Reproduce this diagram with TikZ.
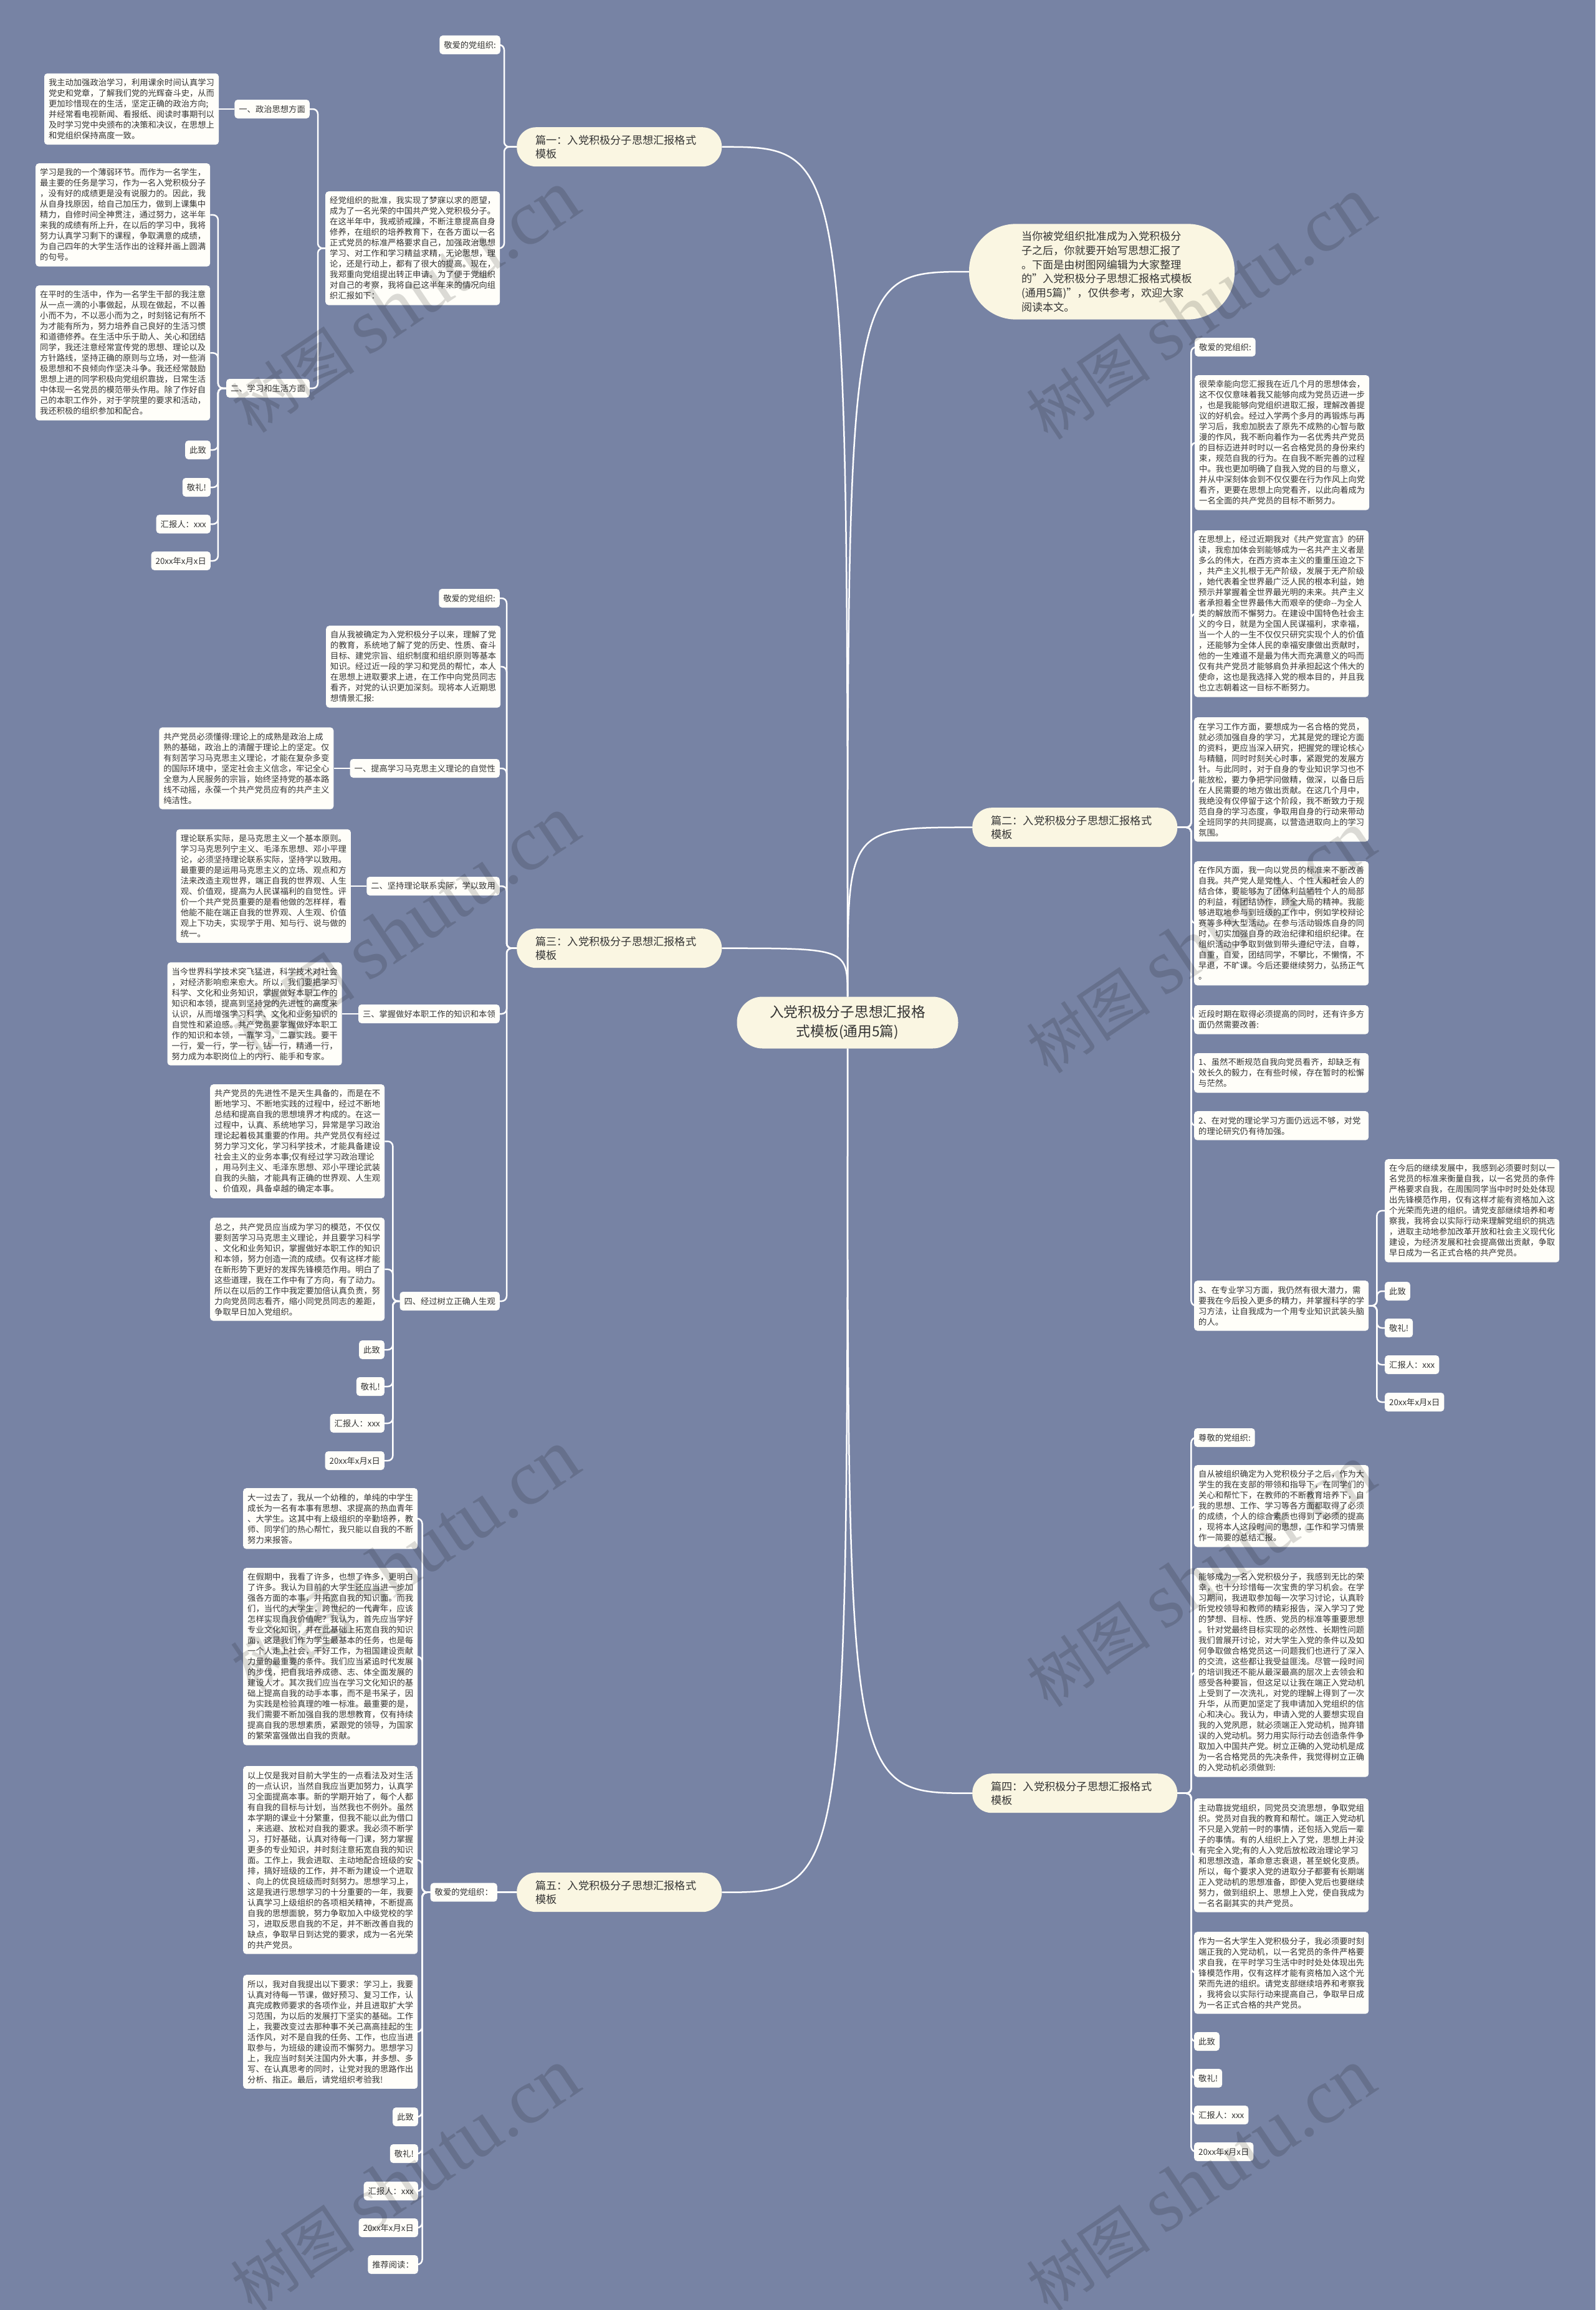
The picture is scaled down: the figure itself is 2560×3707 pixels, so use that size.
\documentclass[tikz,border=0pt]{standalone}
\usepackage{fontspec}
\setmainfont{Noto Sans CJK SC}
\newfontfamily\wmfont{Liberation Serif}
\usetikzlibrary{positioning}
\definecolor{bgcol}{RGB}{119,131,164}
\definecolor{boxfill}{RGB}{255,254,249}
\definecolor{piancol}{RGB}{250,246,226}
\definecolor{textcol}{RGB}{52,52,52}

\begin{document}
\begin{tikzpicture}[
  x=1pt,y=-1pt,
  txt/.style={fill=boxfill,text=textcol,rounded corners=5pt,text width=266pt,align=left,inner xsep=7pt,inner ysep=8.5pt,font=\fontsize{13.3}{17}\selectfont},
  tag/.style={fill=boxfill,text=textcol,rounded corners=5pt,inner xsep=7pt,inner ysep=2pt,minimum height=30pt,font=\fontsize{13.3}{17}\selectfont},
  pian/.style={fill=piancol,text=textcol,rounded corners=31pt,text width=269pt,align=left,inner xsep=30pt,minimum height=63pt,font=\fontsize{17.2}{21.7}\selectfont},
  link/.style={draw=white,line width=2.5pt,rounded corners=8pt},
  wmark/.style={rotate=34,text=black,opacity=.14,inner sep=0pt}
]
  \useasboundingbox (0,0) rectangle (2560,3707);
  \fill[bgcol] (0,0) rectangle (2560,3707);

  \node[fill=piancol,text=textcol,rounded corners=41pt,minimum width=355pt,minimum height=83pt,align=center,font=\fontsize{22.7}{30.7}\selectfont] (centre) at (1360,1641) {入党积极分子思想汇报格\\式模板(通用5篇)};
  \node[fill=piancol,text=textcol,rounded corners=75pt,text width=258pt,align=left,inner xsep=84pt,inner ysep=12pt,font=\fontsize{17.1}{22.7}\selectfont] (intro) at (1768,436) {当你被党组织批准成为入党积极分\\子之后，你就要开始写思想汇报了\\。下面是由树图网编辑为大家整理\\的"入党积极分子思想汇报格式模板\\(通用5篇)"，仅供参考，欢迎大家\\阅读本文。};

  % 篇一
  \node[pian,anchor=north west] (pian1) at (829,204) {篇一：入党积极分子思想汇报格式\\模板};
  \node[tag,anchor=east] (p1greet) at (803,72) {敬爱的党组织:};
  \node[txt,anchor=north west] (p1lead) at (522,307) {经党组织的批准，我实现了梦寐以求的愿望，\\成为了一名光荣的中国共产党入党积极分子。\\在这半年中，我戒骄戒躁，不断注意提高自身\\修养，在组织的培养教育下，在各方面以一名\\正式党员的标准严格要求自己，加强政治思想\\学习、对工作和学习精益求精，无论思想，理\\论，还是行动上，都有了很大的提高。现在，\\我郑重向党组提出转正申请。为了便于党组织\\对自己的考察，我将自己这半年来的情况向组\\织汇报如下：};
  \node[tag,anchor=east] (p1a) at (497,175) {一、政治思想方面};
  \node[tag,anchor=east] (p1b) at (497,623) {二、学习和生活方面};
  \node[txt,left=25pt of p1a] (p1aa) {我主动加强政治学习，利用课余时间认真学习\\党史和党章，了解我们党的光辉奋斗史，从而\\更加珍惜现在的生活，坚定正确的政治方向;\\并经常看电视新闻、看报纸、阅读时事期刊以\\及时学习党中央颁布的决策和决议，在思想上\\和党组织保持高度一致。};
  \node[txt,anchor=north west] (p1ba) at (57,262) {学习是我的一个薄弱环节。而作为一名学生，\\最主要的任务是学习，作为一名入党积极分子\\，没有好的成绩更是没有说服力的。因此，我\\从自身找原因，给自己加压力，做到上课集中\\精力，自修时间全神贯注，通过努力，这半年\\来我的成绩有所上升，在以后的学习中，我将\\努力认真学习剩下的课程，争取满意的成绩，\\为自己四年的大学生活作出的诠释并画上圆满\\的句号。};
  \node[txt,anchor=north west] (p1bb) at (57,458) {在平时的生活中，作为一名学生干部的我注意\\从一点一滴的小事做起，从现在做起，不以善\\小而不为，不以恶小而为之，时刻铭记有所不\\为才能有所为，努力培养自己良好的生活习惯\\和道德修养。在生活中乐于助人、关心和团结\\同学，我还注意经常宣传党的思想、理论以及\\方针路线，坚持正确的原则与立场，对一些消\\极思想和不良倾向作坚决斗争。我还经常鼓励\\思想上进的同学积极向党组织靠拢，日常生活\\中体现一名党员的模范带头作用。除了作好自\\己的本职工作外，对于学院里的要求和活动，\\我还积极的组织参加和配合。};
  \node[tag,anchor=east] (p1end1) at (338,722) {此致};
  \node[tag,anchor=east] (p1end2) at (338,782) {敬礼!};
  \node[tag,anchor=east] (p1end3) at (338,841) {汇报人：xxx};
  \node[tag,anchor=east] (p1end4) at (338,900) {20xx年x月x日};

  % 篇三
  \node[pian,anchor=north west] (pian3) at (829,1490) {篇三：入党积极分子思想汇报格式\\模板};
  \node[tag,anchor=east] (p3greet) at (802,960) {敬爱的党组织:};
  \node[txt,anchor=north west] (p3lead) at (523,1004) {自从我被确定为入党积极分子以来，理解了党\\的教育，系统地了解了党的历史、性质、奋斗\\目标、建党宗旨、组织制度和组织原则等基本\\知识。经过近一段的学习和党员的帮忙，本人\\在思想上进取要求上进，在工作中向党员同志\\看齐，对党的认识更加深刻。现将本人近期思\\想情景汇报:};
  \node[tag,anchor=east] (p3a) at (802,1233) {一、提高学习马克思主义理论的自觉性};
  \node[tag,anchor=east] (p3b) at (802,1422) {二、坚持理论联系实际，学以致用};
  \node[tag,anchor=east] (p3c) at (802,1627) {三、掌握做好本职工作的知识和本领};
  \node[tag,anchor=east] (p3d) at (802,2088) {四、经过树立正确人生观};
  \node[txt,left=26pt of p3a] (p3aa) {共产党员必须懂得:理论上的成熟是政治上成\\熟的基础，政治上的清醒于理论上的坚定。仅\\有刻苦学习马克思主义理论，才能在复杂多变\\的国际环境中，坚定社会主义信念，牢记全心\\全意为人民服务的宗旨，始终坚持党的基本路\\线不动摇，永葆一个共产党员应有的共产主义\\纯洁性。};
  \node[txt,left=25pt of p3b] (p3ba) {理论联系实际，是马克思主义一个基本原则。\\学习马克思列宁主义、毛泽东思想、邓小平理\\论，必须坚持理论联系实际，坚持学以致用。\\最重要的是运用马克思主义的立场、观点和方\\法来改造主观世界，端正自我的世界观、人生\\观、价值观，提高为人民谋福利的自觉性。评\\价一个共产党员重要的是看他做的怎样样，看\\他能不能在端正自我的世界观、人生观、价值\\观上下功夫，实现学于用、知与行、说与做的\\统一。};
  \node[txt,left=26pt of p3c] (p3ca) {当今世界科学技术突飞猛进，科学技术对社会\\，对经济影响愈来愈大。所以，我们要把学习\\科学、文化和业务知识，掌握做好本职工作的\\知识和本领，提高到坚持党的先进性的高度来\\认识，从而增强学习科学、文化和业务知识的\\自觉性和紧迫感。共产党员要掌握做好本职工\\作的知识和本领，一靠学习，二靠实践。要干\\一行，爱一行，学一行，钻一行，精通一行，\\努力成为本职岗位上的内行、能手和专家。};
  \node[txt,anchor=north west] (p3da) at (337,1740) {共产党员的先进性不是天生具备的，而是在不\\断地学习、不断地实践的过程中，经过不断地\\总结和提高自我的思想境界才构成的。在这一\\过程中，认真、系统地学习，异常是学习政治\\理论起着极其重要的作用。共产党员仅有经过\\努力学习文化，学习科学技术，才能具备建设\\社会主义的业务本事;仅有经过学习政治理论\\，用马列主义、毛泽东思想、邓小平理论武装\\自我的头脑，才能具有正确的世界观、人生观\\、价值观，具备卓越的确定本事。};
  \node[txt,anchor=north west] (p3db) at (337,1954) {总之，共产党员应当成为学习的模范，不仅仅\\要刻苦学习马克思主义理论，并且要学习科学\\、文化和业务知识，掌握做好本职工作的知识\\和本领，努力创造一流的成绩。仅有这样才能\\在新形势下更好的发挥先锋模范作用。明白了\\这些道理，我在工作中有了方向，有了动力。\\所以在以后的工作中我定要加倍认真负责，努\\力向党员同志看齐，缩小同党员同志的差距，\\争取早日加入党组织。};
  \node[tag,anchor=east] (p3end1) at (617,2166) {此致};
  \node[tag,anchor=east] (p3end2) at (617,2225) {敬礼!};
  \node[tag,anchor=east] (p3end3) at (617,2284) {汇报人：xxx};
  \node[tag,anchor=east] (p3end4) at (617,2344) {20xx年x月x日};

  % 篇五
  \node[pian,anchor=north west] (pian5) at (829,3005) {篇五：入党积极分子思想汇报格式\\模板};
  \node[tag,left=31pt of pian5] (p5greet) {敬爱的党组织：};
  \node[txt,anchor=north west] (p5a) at (390,2388) {大一过去了，我从一个幼稚的，单纯的中学生\\成长为一名有本事有思想、求提高的热血青年\\、大学生。这其中有上级组织的辛勤培养，教\\师、同学们的热心帮忙，我只能以自我的不断\\努力来报答。};
  \node[txt,anchor=north west] (p5b) at (390,2516) {在假期中，我看了许多，也想了许多，更明白\\了许多。我认为目前的大学生还应当进一步加\\强各方面的本事，并拓宽自我的知识面。而我\\们，当代的大学生，跨世纪的一代青年，应该\\怎样实现自我价值呢？我认为，首先应当学好\\专业文化知识，并在此基础上拓宽自我的知识\\面，这是我们作为学生最基本的任务，也是每\\一个人走上社会，干好工作，为祖国建设贡献\\力量的最重要的条件。我们应当紧追时代发展\\的步伐，把自我培养成德、志、体全面发展的\\建设人才。其次我们应当在学习文化知识的基\\础上提高自我的动手本事，而不是书呆子，因\\为实践是检验真理的唯一标准。最重要的是，\\我们需要不断加强自我的思想教育，仅有持续\\提高自我的思想素质，紧跟党的领导，为国家\\的繁荣富强做出自我的贡献。};
  \node[txt,anchor=north west] (p5c) at (390,2834) {以上仅是我对目前大学生的一点看法及对生活\\的一点认识，当然自我应当更加努力，认真学\\习全面提高本事。新的学期开始了，每个人都\\有自我的目标与计划，当然我也不例外。虽然\\本学期的课业十分繁重，但我不能以此为借口\\，来逃避、放松对自我的要求。我必须不断学\\习，打好基础，认真对待每一门课，努力掌握\\更多的专业知识，并时刻注意拓宽自我的知识\\面。工作上，我会进取、主动地配合班级的安\\排，搞好班级的工作，并不断为建设一个进取\\、向上的优良班级而时刻努力。思想学习上，\\这是我进行思想学习的十分重要的一年，我要\\认真学习上级组织的各项相关精神，不断提高\\自我的思想面貌，努力争取加入中级党校的学\\习，进取反思自我的不足，并不断改善自我的\\缺点，争取早日到达党的要求，成为一名光荣\\的共产党员。};
  \node[txt,anchor=north west] (p5d) at (390,3169) {所以，我对自我提出以下要求：学习上，我要\\认真对待每一节课，做好预习、复习工作，认\\真完成教师要求的各项作业，并且进取扩大学\\习范围，为以后的发展打下坚实的基础。工作\\上，我要改变过去那种事不关己高高挂起的生\\活作风，对不是自我的任务、工作，也应当进\\取参与，为班级的建设而不懈努力。思想学习\\上，我应当时刻关注国内外大事，并多想、多\\写、在认真思考的同时，让党对我的思路作出\\分析、指正。最后，请党组织考验我!};
  \node[tag,anchor=east] (p5end1) at (671,3397) {此致};
  \node[tag,anchor=east] (p5end2) at (671,3456) {敬礼!};
  \node[tag,anchor=east] (p5end3) at (671,3516) {汇报人：xxx};
  \node[tag,anchor=east] (p5end4) at (671,3575) {20xx年x月x日};
  \node[tag,anchor=east] (p5end5) at (671,3634) {推荐阅读：};

  % 篇二
  \node[pian,anchor=north west] (pian2) at (1560,1296) {篇二：入党积极分子思想汇报格式\\模板};
  \node[tag,anchor=west] (p2greet) at (1917,557) {敬爱的党组织:};
  \node[txt,anchor=north west] (p2a) at (1917,602) {很荣幸能向您汇报我在近几个月的思想体会，\\这不仅仅意味着我又能够向成为党员迈进一步\\，也是我能够向党组织进取汇报，理解改善提\\议的好机会。经过入学两个多月的再锻炼与再\\学习后，我愈加脱去了原先不成熟的心智与散\\漫的作风，我不断向着作为一名优秀共产党员\\的目标迈进并时时以一名合格党员的身份来约\\束，规范自我的行为。在自我不断完善的过程\\中。我也更加明确了自我入党的目的与意义，\\并从中深刻体会到不仅仅要在行为作风上向党\\看齐，更要在思想上向党看齐，以此向着成为\\一名全面的共产党员的目标不断努力。};
  \node[txt,anchor=north west] (p2b) at (1916,851) {在思想上，经过近期我对《共产党宣言》的研\\读，我愈加体会到能够成为一名共产主义者是\\多么的伟大，在西方资本主义的重重压迫之下\\，共产主义扎根于无产阶级，发展于无产阶级\\，她代表着全世界最广泛人民的根本利益，她\\预示并掌握着全世界最光明的未来。共产主义\\者承担着全世界最伟大而艰辛的使命{-}{-}为全人\\类的解放而不懈努力。在建设中国特色社会主\\义的今日，就是为全国人民谋福利，求幸福，\\当一个人的一生不仅仅只研究实现个人的价值\\，还能够为全体人民的幸福安康做出贡献时，\\他的一生难道不是最为伟大而充满意义的吗而\\仅有共产党员才能够肩负并承担起这个伟大的\\使命，这也是我选择入党的根本目的，并且我\\也立志朝着这一目标不断努力。};
  \node[txt,anchor=north west] (p2c) at (1916,1151) {在学习工作方面，要想成为一名合格的党员，\\就必须加强自身的学习，尤其是党的理论方面\\的资料，更应当深入研究，把握党的理论核心\\与精髓，同时时刻关心时事，紧跟党的发展方\\针。与此同时，对于自身的专业知识学习也不\\能放松，要力争把学问做精，做深，以备日后\\在人民需要的地方做出贡献。在这几个月中，\\我绝没有仅停留于这个阶段，我不断致力于规\\范自身的学习态度，争取用自身的行动来带动\\全班同学的共同提高，以营造进取向上的学习\\氛围。};
  \node[txt,anchor=north west] (p2d) at (1916,1382) {在作风方面，我一向以党员的标准来不断改善\\自我。共产党人是党性人、个性人和社会人的\\结合体，要能够为了团体利益牺牲个人的局部\\的利益，有团结协作，顾全大局的精神。我能\\够进取地参与到班级的工作中，例如学校辩论\\赛等多种大型活动。在参与活动锻炼自身的同\\时，切实加强自身的政治纪律和组织纪律。在\\组织活动中争取到做到带头遵纪守法，自尊，\\自重，自爱，团结同学，不攀比，不懒惰，不\\早退，不旷课。今后还要继续努力，弘扬正气\\。};
  \node[txt,anchor=north west] (p2e) at (1916,1613) {近段时期在取得必须提高的同时，还有许多方\\面仍然需要改善:};
  \node[txt,anchor=north west] (p2f) at (1916,1690) {1、虽然不断规范自我向党员看齐，却缺乏有\\效长久的毅力，在有些时候，存在暂时的松懈\\与茫然。};
  \node[txt,anchor=north west] (p2g) at (1916,1783) {2、在对党的理论学习方面仍远远不够，对党\\的理论研究仍有待加强。};
  \node[txt,anchor=north west] (p2h) at (1916,2055) {3、在专业学习方面，我仍然有很大潜力，需\\要我在今后投入更多的精力，并掌握科学的学\\习方法，让自我成为一个用专业知识武装头脑\\的人。};
  \node[txt,anchor=north west] (p2ha) at (2222,1860) {在今后的继续发展中，我感到必须要时刻以一\\名党员的标准来衡量自我，以一名党员的条件\\严格要求自我，在周围同学当中时时处处体现\\出先锋模范作用，仅有这样才能有资格加入这\\个光荣而先进的组织。请党支部继续培养和考\\察我，我将会以实际行动来理解党组织的挑选\\，进取主动地参加改革开放和社会主义现代化\\建设，为经济发展和社会提高做出贡献，争取\\早日成为一名正式合格的共产党员。};
  \node[tag,anchor=west] (p2end1) at (2222,2072) {此致};
  \node[tag,anchor=west] (p2end2) at (2222,2131) {敬礼!};
  \node[tag,anchor=west] (p2end3) at (2222,2190) {汇报人：xxx};
  \node[tag,anchor=west] (p2end4) at (2222,2250) {20xx年x月x日};

  % 篇四
  \node[pian,anchor=north west] (pian4) at (1560,2846) {篇四：入党积极分子思想汇报格式\\模板};
  \node[tag,anchor=west] (p4greet) at (1916,2307) {尊敬的党组织:};
  \node[txt,anchor=north west] (p4a) at (1916,2351) {自从被组织确定为入党积极分子之后，作为大\\学生的我在支部的带领和指导下，在同学们的\\关心和帮忙下，在教师的不断教育培养下，自\\我的思想、工作、学习等各方面都取得了必须\\的成绩，个人的综合素质也得到了必须的提高\\，现将本人这段时间的思想，工作和学习情景\\作一简要的总结汇报。};
  \node[txt,anchor=north west] (p4b) at (1916,2516) {能够成为一名入党积极分子，我感到无比的荣\\幸，也十分珍惜每一次宝贵的学习机会。在学\\习期间，我进取参加每一次学习讨论，认真聆\\听党校领导和教师的精彩报告，深入学习了党\\的梦想、目标、性质、党员的标准等重要思想\\。针对党最终目标实现的必然性、长期性问题\\我们曾展开讨论，对大学生入党的条件以及如\\何争取做合格党员这一问题我们也进行了深入\\的交流，这些都让我受益匪浅。尽管一段时间\\的培训我还不能从最深最高的层次上去领会和\\感受各种要旨，但这足以让我在端正入党动机\\上受到了一次洗礼，对党的理解上得到了一次\\升华，从而更加坚定了我申请加入党组织的信\\心和决心。我认为，申请入党的人要想实现自\\我的入党夙愿，就必须端正入党动机，抛弃错\\误的入党动机。努力用实际行动去创造条件争\\取加入中国共产党。树立正确的入党动机是成\\为一名合格党员的先决条件，我觉得树立正确\\的入党动机必须做到:};
  \node[txt,anchor=north west] (p4c) at (1916,2886) {主动靠拢党组织，同党员交流思想，争取党组\\织。党员对自我的教育和帮忙。端正入党动机\\不只是入党前一时的事情，还包括入党后一辈\\子的事情。有的人组织上入了党，思想上并没\\有完全入党;有的人入党后放松政治理论学习\\和思想改造，革命意志衰退，甚至蜕化变质。\\所以，每个要求入党的进取分子都要有长期端\\正入党动机的思想准备，即使入党后也要继续\\努力，做到组织上、思想上入党，使自我成为\\一名名副其实的共产党员。};
  \node[txt,anchor=north west] (p4d) at (1916,3100) {作为一名大学生入党积极分子，我必须要时刻\\端正我的入党动机，以一名党员的条件严格要\\求自我，在平时学习生活中时时处处体现出先\\锋模范作用，仅有这样才能有资格加入这个光\\荣而先进的组织。请党支部继续培养和考察我\\，我将会以实际行动来提高自己，争取早日成\\为一名正式合格的共产党员。};
  \node[tag,anchor=west] (p4end1) at (1916,3276) {此致};
  \node[tag,anchor=west] (p4end2) at (1916,3335) {敬礼!};
  \node[tag,anchor=west] (p4end3) at (1916,3394) {汇报人：xxx};
  \node[tag,anchor=west] (p4end4) at (1916,3453) {20xx年x月x日};

  \draw[link] (centre.north) .. controls (centre.north |- pian1.east) .. (pian1.east);
  \draw[link] (centre.north) .. controls (centre.north |- pian3.east) .. (pian3.east);
  \draw[link] (centre.south) .. controls (centre.south |- pian5.east) .. (pian5.east);
  \draw[link] (centre.north) .. controls (centre.north |- intro.west) .. (intro.west);
  \draw[link] (centre.north) .. controls (centre.north |- pian2.west) .. (pian2.west);
  \draw[link] (centre.south) .. controls (centre.south |- pian4.west) .. (pian4.west);

  \draw[link] (pian1.west) -- ++(-20,0) |- (p1greet.east);
  \draw[link] (pian1.west) -- ++(-20,0) |- (p1lead.east);
  \draw[link] (p1lead.west) -- ++(-12,0) |- (p1a.east);
  \draw[link] (p1lead.west) -- ++(-12,0) |- (p1b.east);
  \draw[link] (p1a.west) -- (p1aa.east);
  \draw[link] (p1b.west) -- ++(-13,0) |- (p1ba.east);
  \draw[link] (p1b.west) -- ++(-13,0) |- (p1bb.east);
  \draw[link] (p1b.west) -- ++(-13,0) |- (p1end1.east);
  \draw[link] (p1b.west) -- ++(-13,0) |- (p1end2.east);
  \draw[link] (p1b.west) -- ++(-13,0) |- (p1end3.east);
  \draw[link] (p1b.west) -- ++(-13,0) |- (p1end4.east);

  \draw[link] (pian3.west) -- ++(-16,0) |- (p3greet.east);
  \draw[link] (pian3.west) -- ++(-16,0) |- (p3lead.east);
  \draw[link] (pian3.west) -- ++(-16,0) |- (p3a.east);
  \draw[link] (pian3.west) -- ++(-16,0) |- (p3b.east);
  \draw[link] (pian3.west) -- ++(-16,0) |- (p3c.east);
  \draw[link] (pian3.west) -- ++(-16,0) |- (p3d.east);
  \draw[link] (p3a.west) -- (p3aa.east);
  \draw[link] (p3b.west) -- (p3ba.east);
  \draw[link] (p3c.west) -- (p3ca.east);
  \draw[link] (p3d.west) -- ++(-11,0) |- (p3da.east);
  \draw[link] (p3d.west) -- ++(-11,0) |- (p3db.east);
  \draw[link] (p3d.west) -- ++(-11,0) |- (p3end1.east);
  \draw[link] (p3d.west) -- ++(-11,0) |- (p3end2.east);
  \draw[link] (p3d.west) -- ++(-11,0) |- (p3end3.east);
  \draw[link] (p3d.west) -- ++(-11,0) |- (p3end4.east);

  \draw[link] (pian5.west) -- (p5greet.east);
  \draw[link] (p5greet.west) -- ++(-13,0) |- (p5a.east);
  \draw[link] (p5greet.west) -- ++(-13,0) |- (p5b.east);
  \draw[link] (p5greet.west) -- ++(-13,0) |- (p5c.east);
  \draw[link] (p5greet.west) -- ++(-13,0) |- (p5d.east);
  \draw[link] (p5greet.west) -- ++(-13,0) |- (p5end1.east);
  \draw[link] (p5greet.west) -- ++(-13,0) |- (p5end2.east);
  \draw[link] (p5greet.west) -- ++(-13,0) |- (p5end3.east);
  \draw[link] (p5greet.west) -- ++(-13,0) |- (p5end4.east);
  \draw[link] (p5greet.west) -- ++(-13,0) |- (p5end5.east);

  \draw[link] (pian2.east) -- ++(22,0) |- (p2greet.west);
  \draw[link] (pian2.east) -- ++(22,0) |- (p2a.west);
  \draw[link] (pian2.east) -- ++(22,0) |- (p2b.west);
  \draw[link] (pian2.east) -- ++(22,0) |- (p2c.west);
  \draw[link] (pian2.east) -- ++(22,0) |- (p2d.west);
  \draw[link] (pian2.east) -- ++(22,0) |- (p2e.west);
  \draw[link] (pian2.east) -- ++(22,0) |- (p2f.west);
  \draw[link] (pian2.east) -- ++(22,0) |- (p2g.west);
  \draw[link] (pian2.east) -- ++(22,0) |- (p2h.west);
  \draw[link] (p2h.east) -- ++(13,0) |- (p2ha.west);
  \draw[link] (p2h.east) -- ++(13,0) |- (p2end1.west);
  \draw[link] (p2h.east) -- ++(13,0) |- (p2end2.west);
  \draw[link] (p2h.east) -- ++(13,0) |- (p2end3.west);
  \draw[link] (p2h.east) -- ++(13,0) |- (p2end4.west);

  \draw[link] (pian4.east) -- ++(22,0) |- (p4greet.west);
  \draw[link] (pian4.east) -- ++(22,0) |- (p4a.west);
  \draw[link] (pian4.east) -- ++(22,0) |- (p4b.west);
  \draw[link] (pian4.east) -- ++(22,0) |- (p4c.west);
  \draw[link] (pian4.east) -- ++(22,0) |- (p4d.west);
  \draw[link] (pian4.east) -- ++(22,0) |- (p4end1.west);
  \draw[link] (pian4.east) -- ++(22,0) |- (p4end2.west);
  \draw[link] (pian4.east) -- ++(22,0) |- (p4end3.west);
  \draw[link] (pian4.east) -- ++(22,0) |- (p4end4.west);

  \node[wmark] (wm1) at (650,485) {\fontsize{100}{100}\selectfont 树图\ \wmfont\fontsize{125}{125}\selectfont shutu.cn};
  \node[wmark] (wm2) at (1927,496) {\fontsize{100}{100}\selectfont 树图\ \wmfont\fontsize{125}{125}\selectfont shutu.cn};
  \node[wmark] (wm3) at (650,1489) {\fontsize{100}{100}\selectfont 树图\ \wmfont\fontsize{125}{125}\selectfont shutu.cn};
  \node[wmark] (wm4) at (1927,1513) {\fontsize{100}{100}\selectfont 树图\ \wmfont\fontsize{125}{125}\selectfont shutu.cn};
  \node[wmark] (wm5) at (650,2506) {\fontsize{100}{100}\selectfont 树图\ \wmfont\fontsize{125}{125}\selectfont shutu.cn};
  \node[wmark] (wm6) at (1927,2530) {\fontsize{100}{100}\selectfont 树图\ \wmfont\fontsize{125}{125}\selectfont shutu.cn};
  \node[wmark] (wm7) at (650,3499) {\fontsize{100}{100}\selectfont 树图\ \wmfont\fontsize{125}{125}\selectfont shutu.cn};
  \node[wmark] (wm8) at (1927,3499) {\fontsize{100}{100}\selectfont 树图\ \wmfont\fontsize{125}{125}\selectfont shutu.cn};
\end{tikzpicture}
\end{document}
